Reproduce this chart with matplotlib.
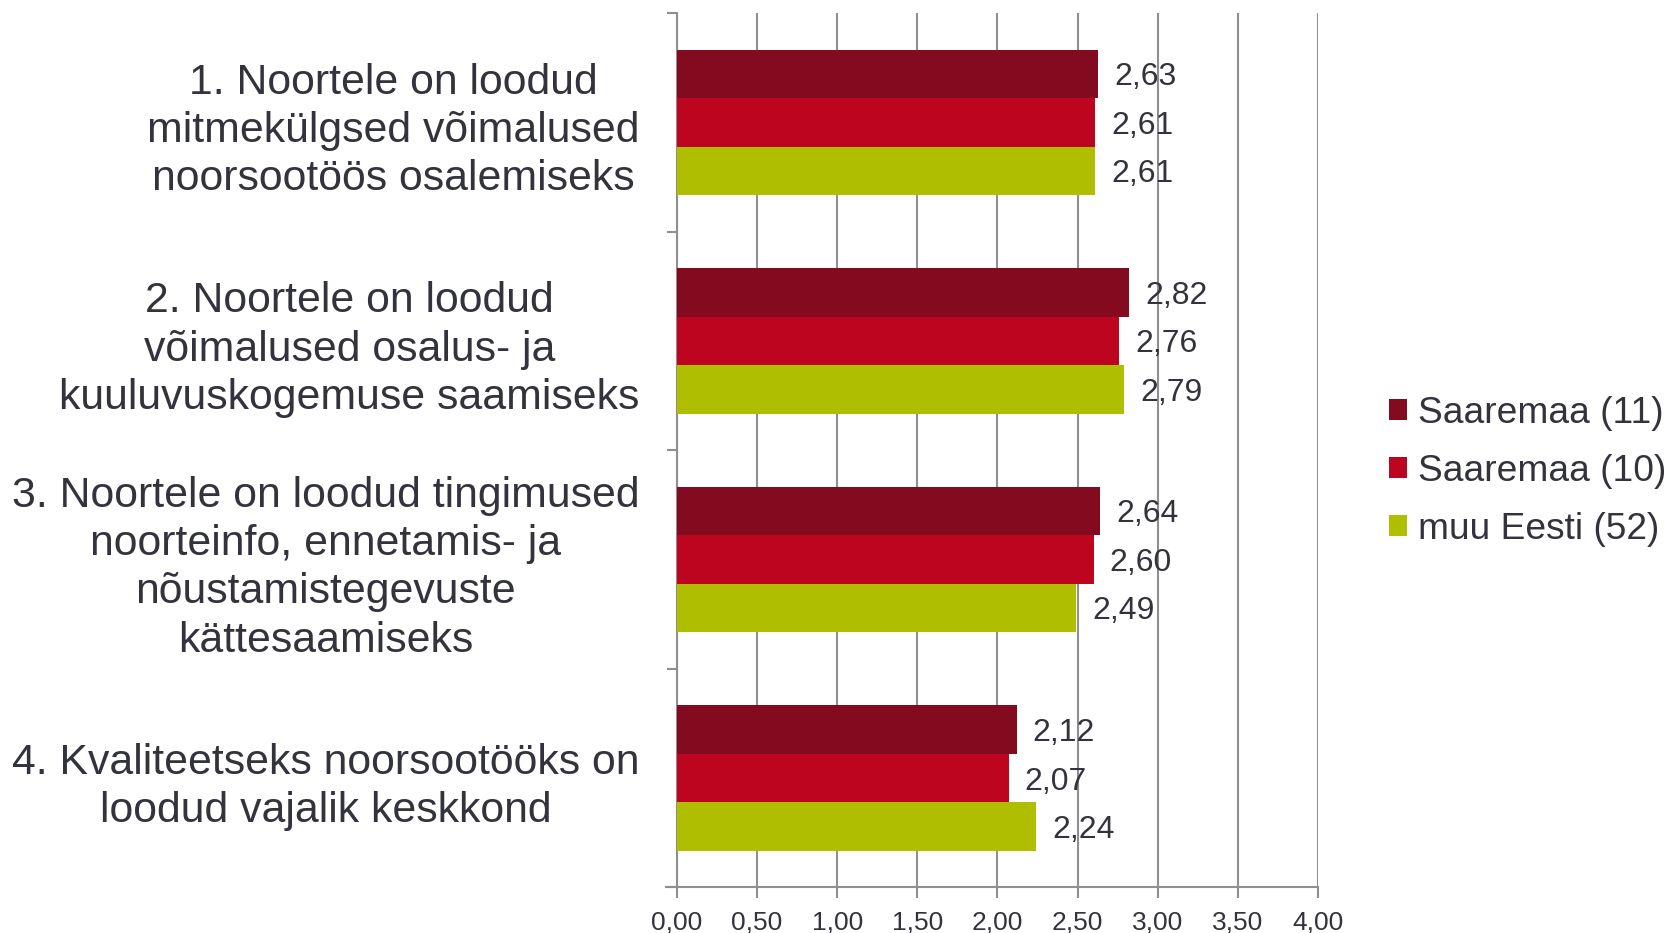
import matplotlib
matplotlib.use('Agg')
import matplotlib.pyplot as plt
import matplotlib.transforms as mtransforms
import numpy as np
from matplotlib.patches import Patch

categories = [
    "1. Noortele on loodud\nmitmekülgsed võimalused\nnoorsootöös osalemiseks",
    "2. Noortele on loodud\nvõimalused osalus- ja\nkuuluvuskogemuse saamiseks",
    "3. Noortele on loodud tingimused\nnoorteinfo, ennetamis- ja\nnõustamistegevuste\nkättesaamiseks",
    "4. Kvaliteetseks noorsootööks on\nloodud vajalik keskkond",
]
series_names = ["Saaremaa (11)", "Saaremaa (10)", "muu Eesti (52)"]
saaremaa_11 = [2.63, 2.82, 2.64, 2.12]
saaremaa_10 = [2.61, 2.76, 2.60, 2.07]
muu_eesti = [2.61, 2.79, 2.49, 2.24]
x_ticks = [0, 0.5, 1, 1.5, 2, 2.5, 3, 3.5, 4]

colors = ['#840B1F', '#BE0520', '#AFBF00']
text_color = '#33333d'
grid_color = '#8f8f8f'

plt.rcParams.update({
    "font.family": ["Liberation Sans", "DejaVu Sans"],
    "text.color": text_color,
})

fig = plt.figure(figsize=(16.69, 9.33), dpi=100)
ax = fig.add_axes([0.4056, 0.049, 0.7897 - 0.4056, 0.986 - 0.049])

y = np.arange(len(categories))
h = 0.222
for k, (vals, col) in enumerate(zip([saaremaa_11, saaremaa_10, muu_eesti], colors)):
    pos = y + (k - 1) * h
    ax.barh(pos, vals, height=h, color=col, zorder=3)
    for p, v in zip(pos, vals):
        ax.text(v + 0.1, p, f"{v:.2f}".replace('.', ','), va='center_baseline', ha='left',
                fontsize=23, color=text_color, zorder=4)

ax.set_xlim(0, 4)
ax.set_ylim(len(categories) - 0.5, -0.5)
ax.set_xticks(x_ticks)
ax.set_xticklabels([f"{t:.2f}".replace('.', ',') for t in x_ticks])
ax.xaxis.grid(True, color=grid_color, linewidth=1.5, zorder=0)

ax.set_yticks(y)
ax.set_yticklabels(categories, fontsize=30.8, linespacing=1.27, multialignment='center')
# nudge the category labels up a little
shift = mtransforms.ScaledTranslation(0, 4 / 100, fig.dpi_scale_trans)
for lbl in ax.get_yticklabels():
    lbl.set_transform(lbl.get_transform() + shift)
ax.set_yticks(np.arange(-0.5, len(categories)), minor=True)
ax.tick_params(axis='y', which='major', length=0, pad=27, labelcolor=text_color)
ax.tick_params(axis='y', which='minor', length=7, width=1.5, color=grid_color, direction='out')
ax.tick_params(axis='x', length=8, width=1.5, color=grid_color, direction='out',
               labelsize=19, labelcolor=text_color, pad=9)

for side in ['top', 'right']:
    ax.spines[side].set_visible(False)
for side in ['left', 'bottom']:
    ax.spines[side].set_color(grid_color)
    ax.spines[side].set_linewidth(1.5)
ax.spines['bottom'].set_bounds(-0.07, 4)

handles = [Patch(facecolor=c) for c in colors]
fig.legend(handles, series_names, loc='center left', bbox_to_anchor=(0.832, 0.495),
           frameon=False, fontsize=26.7, handlelength=0.5, handleheight=0.5,
           handletextpad=0.3, labelspacing=0.62, borderpad=0, borderaxespad=0)

fig.savefig('out.png', dpi=100)
